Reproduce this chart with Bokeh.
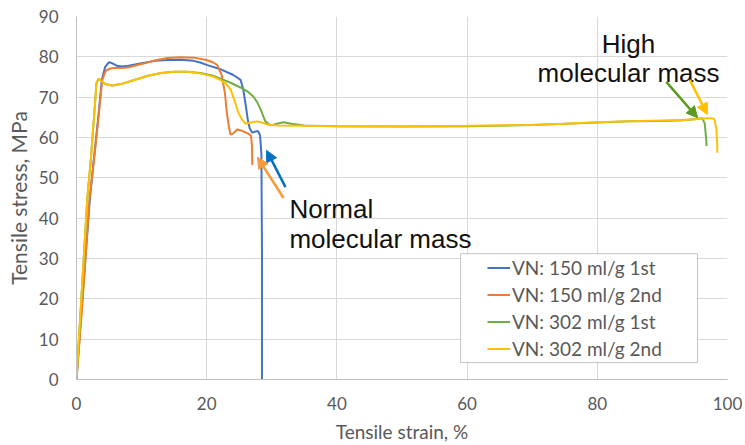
from bokeh.plotting import figure
from bokeh.models import (ColumnDataSource, Range1d, FixedTicker, Legend, LegendItem,
                          BoxAnnotation, Arrow, NormalHead)
from bokeh.core.properties import value
from bokeh.embed import file_html
from bokeh.resources import INLINE

# ---------------- data ----------------
series_names = ["VN: 150 ml/g 1st", "VN: 150 ml/g 2nd", "VN: 302 ml/g 1st", "VN: 302 ml/g 2nd"]
series_colors = ["#4472C4", "#ED7D31", "#70AD47", "#FFC000"]

blue_x = [0, 1, 2.05, 2.66, 3.3, 3.9, 4.4, 5.0, 5.5, 6.2, 7.0, 8, 10, 12, 14, 16, 18, 19, 20, 22,
          24.1, 25.2, 25.6, 26.0, 26.3, 26.6, 27.0, 27.5, 27.9, 28.2, 28.4, 28.5, 28.5]
blue_y = [0, 22, 44.7, 54.6, 64.4, 74.3, 77.5, 78.7, 78.4, 77.8, 77.6, 77.8, 78.4, 79.0, 79.2, 79.3, 79.0, 78.6, 78.0, 77.0,
          75.5, 74.3, 72.0, 68.0, 64.5, 62.3, 61.2, 61.5, 61.6, 60.5, 56.0, 30.0, 0]

orange_x = [0, 1, 2.0, 2.7, 3.35, 3.95, 4.5, 5.2, 6, 7, 8, 10, 12, 14, 16, 18, 20, 21, 21.6, 22.3,
            22.8, 23.1, 23.4, 23.65, 24.0, 24.7, 25.5, 26.3, 26.8, 26.95, 27.0]
orange_y = [0, 21, 44.7, 54.6, 64.4, 74.3, 76.6, 77.1, 77.3, 77.2, 77.4, 78.2, 79.1, 79.7, 79.9, 79.8, 79.2, 78.6, 78.0, 75.5,
            71.0, 66.0, 62.8, 60.7, 60.9, 62.0, 61.6, 61.0, 60.5, 58.0, 53.2]

green_x = [0, 1, 1.65, 2.2, 2.66, 3.07, 3.4, 3.8, 4.5, 5.5, 7, 9, 11, 13, 15, 17, 19, 21, 22.1, 23.5,
           25.2, 26.3, 27.2, 27.8, 28.3, 29.0, 29.8, 30.8, 31.8, 33, 35, 40, 50, 60, 70, 75, 80, 85, 90, 93,
           95.3, 96.1, 96.5, 96.7, 96.8]
green_y = [0, 27, 44.7, 54.6, 64.4, 73.5, 74.6, 74.0, 73.2, 72.9, 73.3, 74.3, 75.3, 76.0, 76.3, 76.3, 76.0, 75.3, 74.6, 73.7,
           72.4, 71.4, 70.1, 68.6, 66.9, 64.0, 63.0, 63.4, 63.8, 63.4, 63.0, 62.8, 62.7, 62.8, 63.1, 63.4, 63.7, 64.0, 64.1, 64.3,
           64.6, 64.8, 63.5, 60.0, 57.9]

yellow_x = [0, 1, 1.65, 2.2, 2.66, 3.07, 3.4, 3.8, 4.5, 5.5, 7, 9, 11, 13, 15, 17, 19, 21, 22.1, 23.0,
            23.7, 24.3, 24.9, 25.5, 26.0, 26.8, 27.7, 28.5, 29.3, 31, 35, 40, 50, 60, 70, 75, 80, 85, 90, 93,
            95, 96.5, 97.6, 98.0, 98.3, 98.4, 98.45]
yellow_y = [0, 27, 44.7, 54.6, 64.4, 73.5, 74.6, 74.0, 73.2, 72.9, 73.3, 74.3, 75.3, 76.0, 76.3, 76.3, 75.9, 75.1, 74.3, 73.3,
            71.8, 69.0, 66.0, 64.3, 63.4, 63.7, 64.0, 63.7, 63.2, 63.0, 62.9, 62.8, 62.8, 62.9, 63.1, 63.4, 63.8, 64.0, 64.2, 64.3,
            64.5, 64.7, 64.8, 64.5, 62.0, 59.0, 56.2]

x_ticks = [0, 20, 40, 60, 80, 100]
y_ticks = [0, 10, 20, 30, 40, 50, 60, 70, 80, 90]

# annotations (data coordinates)
note_text = ["Normal", "molecular mass", "High", "molecular mass"]
note_x = [32.7, 32.7, 84.8, 84.8]
note_y = [42.3, 34.9, 83.3, 76.1]
note_align = ["left", "left", "center", "center"]

arrow_x0 = [32.1, 31.8, 90.6, 94.2]
arrow_y0 = [47.7, 45.0, 73.8, 74.3]
arrow_x1 = [29.2, 27.8, 95.4, 96.9]
arrow_y1 = [56.8, 55.1, 64.9, 65.7]
arrow_colors = ["#0070C0", "#F79A3C", "#5B9A1A", "#FFC000"]

legend_box = [59.0, 95.4, 4.2, 31.2]  # left, right, bottom, top

# ---------------- figure ----------------
TICK_FONT = "Lato"
p = figure(width=745, height=445, output_backend="svg", toolbar_location=None,
           x_range=Range1d(0, 100), y_range=Range1d(0, 90),
           min_border_left=76, min_border_right=18, min_border_top=16, min_border_bottom=63)
p.outline_line_color = None
p.background_fill_color = "white"
p.border_fill_color = "white"

for ax in (p.xaxis[0], p.yaxis[0]):
    ax.axis_line_color = "#BFBFBF"
    ax.axis_line_width = 1
    ax.major_tick_line_color = None
    ax.minor_tick_line_color = None
    ax.major_tick_out = 0
    ax.major_tick_in = 0
    ax.major_label_text_font = TICK_FONT
    ax.major_label_text_font_size = "17px"
    ax.major_label_text_color = "#595959"
    ax.axis_label_text_font = TICK_FONT
    ax.axis_label_text_font_style = "normal"
    ax.axis_label_text_color = "#595959"

p.xaxis.ticker = FixedTicker(ticks=x_ticks)
p.yaxis.ticker = FixedTicker(ticks=y_ticks)
p.xaxis.axis_label = "Tensile strain, %"
p.yaxis.axis_label = "Tensile stress, MPa"
p.xaxis.axis_label_text_font_size = "19px"
p.yaxis.axis_label_text_font_size = "21px"
p.xaxis.major_label_standoff = 17
p.yaxis.major_label_standoff = 18
p.xaxis.axis_label_standoff = 7
p.yaxis.axis_label_standoff = 5

p.grid.grid_line_color = "#D9D9D9"
p.grid.grid_line_width = 1

renderers = []
for xs, ys, c in [(blue_x, blue_y, series_colors[0]), (orange_x, orange_y, series_colors[1]),
                  (green_x, green_y, series_colors[2]), (yellow_x, yellow_y, series_colors[3])]:
    src = ColumnDataSource(dict(x=xs, y=ys))
    renderers.append(p.line("x", "y", source=src, line_color=c, line_width=2))

# legend box
box = BoxAnnotation(left=legend_box[0], right=legend_box[1], bottom=legend_box[2], top=legend_box[3],
                    fill_color="white", fill_alpha=1.0, line_color="#404040", line_width=1)
p.add_layout(box)

legend = Legend(items=[LegendItem(label=n, renderers=[r]) for n, r in zip(series_names, renderers)],
                location=(411, 17), padding=2, spacing=0, margin=0,
                glyph_width=23, glyph_height=27, label_height=27, label_standoff=2,
                label_text_font=TICK_FONT, label_text_font_size="19px", label_text_color="#595959",
                border_line_color=None, background_fill_alpha=0)
p.add_layout(legend)

# annotation texts
nsrc = ColumnDataSource(dict(x=note_x, y=note_y, t=note_text, a=note_align))
p.text(x="x", y="y", text="t", source=nsrc, text_align="a", text_baseline="alphabetic",
       text_font=value("Liberation Sans"), text_font_size=value("26px"), text_color="#111111")

# arrows
for x0, y0, x1, y1, c in zip(arrow_x0, arrow_y0, arrow_x1, arrow_y1, arrow_colors):
    p.add_layout(Arrow(end=NormalHead(size=11, fill_color=c, line_color=c),
                       x_start=x0, y_start=y0, x_end=x1, y_end=y1,
                       line_color=c, line_width=2.5))

open("out.html", "w").write(file_html(p, INLINE))
